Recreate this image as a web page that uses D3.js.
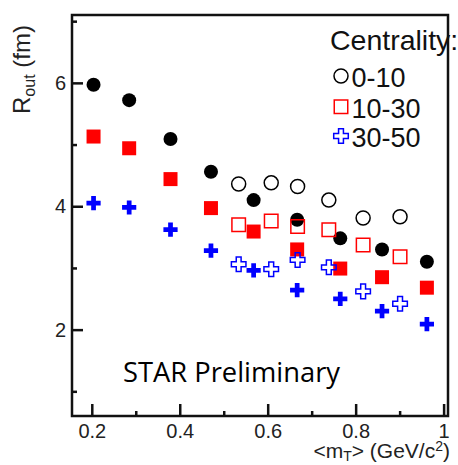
<!DOCTYPE html>
<html>
<head>
<meta charset="utf-8">
<script src="https://cdn.jsdelivr.net/npm/d3@7"></script>
<style>
  html, body { margin: 0; padding: 0; background: #fff; }
  svg { display: block; }
</style>
</head>
<body>
<svg id="chart" width="458" height="465"></svg>
<script>
// <mT> bin centres (GeV/c^2)
const mtFilled = [0.204, 0.285, 0.379, 0.471, 0.568, 0.667, 0.765, 0.860, 0.962];
const mtOpen   = [0.534, 0.608, 0.668, 0.739, 0.817, 0.901];

// R_out (fm), filled markers
const rFilled0to10  = [5.97, 5.72, 5.09, 4.56, 4.10, 3.78, 3.48, 3.30, 3.10];
const rFilled10to30 = [5.13, 4.94, 4.44, 3.97, 3.59, 3.30, 2.99, 2.85, 2.68];
const rFilled30to50 = [4.05, 3.98, 3.62, 3.28, 2.96, 2.64, 2.50, 2.30, 2.09];

// R_out (fm), open markers
const rOpen0to10  = [4.36, 4.38, 4.32, 4.10, 3.81, 3.83];
const rOpen10to30 = [3.70, 3.76, 3.67, 3.62, 3.37, 3.18];
const rOpen30to50 = [3.06, 2.98, 3.13, 3.01, 2.62, 2.42];

const centralities = ["0-10", "10-30", "30-50"];
const colors = ["#000000", "#ff0000", "#0000ff"];

const xMajor = [0.2, 0.4, 0.6, 0.8, 1.0];
const xMajorLabels = ["0.2", "0.4", "0.6", "0.8", "1"];
const xMinor = [0.3, 0.5, 0.7, 0.9];
const yMajor = [2, 4, 6];
const yMajorLabels = ["2", "4", "6"];
const yMinor = [1, 3, 5, 7];

const svg = d3.select("#chart");
const frame = { left: 72, top: 15, right: 448, bottom: 416 };

const x = d3.scaleLinear().domain([0.155, 1.01]).range([frame.left, frame.right]);
const y = d3.scaleLinear().domain([0.6, 7.1]).range([frame.bottom, frame.top]);

const font = "'Liberation Sans', Arial, Helvetica, sans-serif";

// axes: ticks point into the frame
function styleAxis(g) {
  g.select(".domain").remove();
  g.selectAll("line").attr("stroke", "#111").attr("stroke-width", 2.5);
  g.selectAll("text").attr("font-family", font).attr("font-size", 20).attr("fill", "#222");
}

svg.append("g")
  .attr("transform", `translate(0,${frame.bottom})`)
  .call(d3.axisBottom(x).tickValues(xMajor).tickSizeInner(-12).tickSizeOuter(0).tickPadding(8)
        .tickFormat((d, i) => xMajorLabels[i]))
  .call(styleAxis);
svg.append("g")
  .attr("transform", `translate(0,${frame.bottom})`)
  .call(d3.axisBottom(x).tickValues(xMinor).tickSizeInner(-5).tickSizeOuter(0).tickFormat(""))
  .call(styleAxis);

svg.append("g")
  .attr("transform", `translate(${frame.left},0)`)
  .call(d3.axisLeft(y).tickValues(yMajor).tickSizeInner(-11).tickSizeOuter(0).tickPadding(6)
        .tickFormat((d, i) => yMajorLabels[i]))
  .call(styleAxis);
svg.append("g")
  .attr("transform", `translate(${frame.left},0)`)
  .call(d3.axisLeft(y).tickValues(yMinor).tickSizeInner(-5).tickSizeOuter(0).tickFormat(""))
  .call(styleAxis);

// frame
svg.append("rect")
  .attr("x", frame.left).attr("y", frame.top)
  .attr("width", frame.right - frame.left).attr("height", frame.bottom - frame.top)
  .attr("fill", "none").attr("stroke", "#111").attr("stroke-width", 2.5);

// marker shapes per centrality class
const shapes = [
  d3.symbol().type(d3.symbolCircle).size(Math.PI * 7 * 7),
  d3.symbol().type(d3.symbolSquare).size(14 * 14),
  d3.symbol().type(d3.symbolCross).size(112)
];
const openShapes = [
  d3.symbol().type(d3.symbolCircle).size(Math.PI * 7 * 7),
  d3.symbol().type(d3.symbolSquare).size(13.5 * 13.5),
  d3.symbol().type(d3.symbolCross).size(118)
];

const filledSeries = [rFilled0to10, rFilled10to30, rFilled30to50];
const openSeries = [rOpen0to10, rOpen10to30, rOpen30to50];

const plot = svg.append("g");
filledSeries.forEach((vals, k) => {
  plot.append("g").selectAll("path")
    .data(vals.map((v, i) => [mtFilled[i], v]))
    .join("path")
    .attr("transform", d => `translate(${x(d[0])},${y(d[1])})`)
    .attr("d", shapes[k]())
    .attr("fill", colors[k]);
});
openSeries.forEach((vals, k) => {
  plot.append("g").selectAll("path")
    .data(vals.map((v, i) => [mtOpen[i], v]))
    .join("path")
    .attr("transform", d => `translate(${x(d[0])},${y(d[1])})`)
    .attr("d", openShapes[k]())
    .attr("fill", "none")
    .attr("stroke", colors[k])
    .attr("stroke-width", 1.5);
});

// legend
const legend = svg.append("g");
legend.append("text")
  .attr("x", 330).attr("y", 50)
  .attr("font-family", font).attr("font-size", 28.5).attr("fill", "#111")
  .text("Centrality:");
const legendRows = [76, 106.7, 136];
centralities.forEach((c, k) => {
  legend.append("path")
    .attr("transform", `translate(341,${legendRows[k]})`)
    .attr("d", openShapes[k]())
    .attr("fill", "none").attr("stroke", colors[k]).attr("stroke-width", 1.5);
  legend.append("text")
    .attr("x", 351.5).attr("y", legendRows[k] + 5.5 + 0.6 * 9)
    .attr("font-family", font).attr("font-size", 27).attr("fill", "#111")
    .text(c);
});

// axis titles
const xt = svg.append("text")
  .attr("x", 450).attr("y", 457.5)
  .attr("text-anchor", "end")
  .attr("font-family", font).attr("font-size", 21).attr("fill", "#222");
xt.append("tspan").text("<m");
xt.append("tspan").attr("font-size", 14).attr("dy", 3.5).text("T");
xt.append("tspan").attr("dy", -3.5).text("> (GeV/c");
xt.append("tspan").attr("font-size", 14).attr("dy", -7).text("2");
xt.append("tspan").attr("dy", 7).text(")");

const yt = svg.append("text")
  .attr("transform", "translate(30,114) rotate(-90)")
  .attr("text-anchor", "start")
  .attr("font-family", font).attr("font-size", 24).attr("fill", "#222");
yt.append("tspan").text("R");
yt.append("tspan").attr("font-size", 16).attr("dy", 5).text("out");
yt.append("tspan").attr("dy", -5).text(" (fm)");

// preliminary label
svg.append("text")
  .attr("x", 123).attr("y", 382)
  .attr("font-family", "'Open Sans', 'Noto Sans', sans-serif")
  .attr("font-size", 26.5).attr("fill", "#000")
  .attr("textLength", 217).attr("lengthAdjust", "spacingAndGlyphs")
  .text("STAR Preliminary");
</script>
</body>
</html>
